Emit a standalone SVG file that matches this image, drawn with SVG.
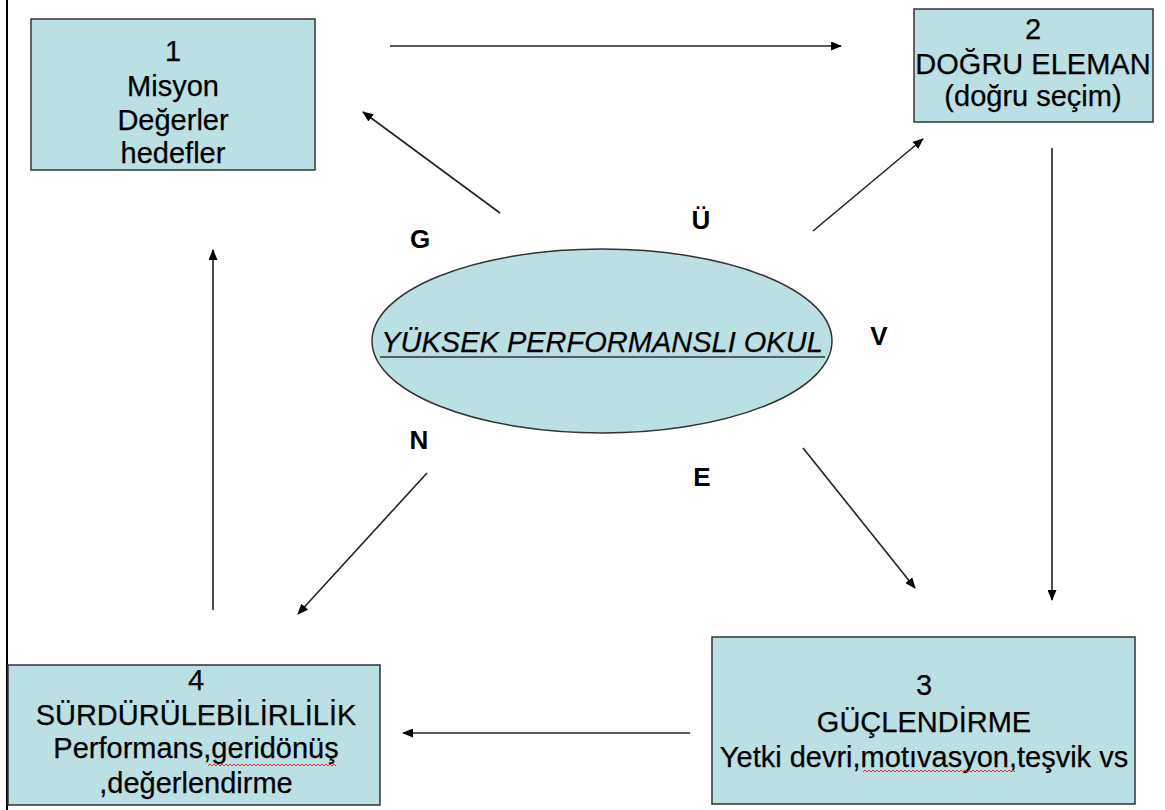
<svg xmlns="http://www.w3.org/2000/svg" width="1165" height="810" viewBox="0 0 1165 810">
<defs>
<marker id="ah" markerWidth="11" markerHeight="9" refX="10" refY="4.5" orient="auto" markerUnits="userSpaceOnUse">
<path d="M0,0 L11,4.5 L0,9 Z" fill="#000"/>
</marker>
<style>
.box{fill:#bbe0e3;stroke:#333;stroke-width:1.5}
.t{font-family:"Liberation Sans",Arial,sans-serif;font-size:29px;fill:#000;text-anchor:middle;stroke:#000;stroke-width:0.25}
.l{font-family:"Liberation Sans",Arial,sans-serif;font-size:26px;font-weight:bold;fill:#000;text-anchor:middle}
.c{stroke:#222;stroke-width:1.6;fill:none;marker-end:url(#ah)}
.sq{stroke:#e03030;stroke-width:1;fill:none}
</style>
</defs>
<rect width="1165" height="810" fill="#fff"/>
<line x1="7" y1="0" x2="7" y2="810" stroke="#000" stroke-width="2"/>
<g id="node1">
<rect class="box" x="31" y="19" width="284" height="151"/>
<text class="t" x="173" y="61">1</text>
<text class="t" x="173" y="96">Misyon</text>
<text class="t" x="173" y="130">Değerler</text>
<text class="t" x="173" y="163">hedefler</text>
</g>
<g id="node2">
<rect class="box" x="914" y="9" width="239" height="113"/>
<text class="t" x="1033" y="39">2</text>
<text class="t" x="1033" y="74">DOĞRU ELEMAN</text>
<text class="t" x="1033" y="106">(doğru seçim)</text>
</g>
<g id="center">
<ellipse cx="602" cy="341" rx="230" ry="92" fill="#bbe0e3" stroke="#333" stroke-width="1.5"/>
<text class="t" x="602" y="352" font-style="italic" font-size="30">YÜKSEK PERFORMANSLI OKUL</text>
<line x1="380" y1="357" x2="825" y2="357" stroke="#333" stroke-width="1.5"/>
</g>
<g id="letters">
<text class="l" x="420" y="248">G</text>
<text class="l" x="701" y="229">Ü</text>
<text class="l" x="879" y="345">V</text>
<text class="l" x="419" y="449">N</text>
<text class="l" x="702" y="486">E</text>
</g>
<g id="node3">
<rect class="box" x="712" y="637" width="423" height="167"/>
<text class="t" x="924" y="695">3</text>
<text class="t" x="924" y="732">GÜÇLENDİRME</text>
<text class="t" x="924" y="767">Yetki devri,motıvasyon,teşvik vs</text>
<path class="sq" d="M863,772 l2,-2 l2,2 l2,-2 l2,2 l2,-2 l2,2 l2,-2 l2,2 l2,-2 l2,2 l2,-2 l2,2 l2,-2 l2,2 l2,-2 l2,2 l2,-2 l2,2 l2,-2 l2,2 l2,-2 l2,2 l2,-2 l2,2 l2,-2 l2,2 l2,-2 l2,2 l2,-2 l2,2 l2,-2 l2,2 l2,-2 l2,2 l2,-2 l2,2 l2,-2 l2,2 l2,-2 l2,2 l2,-2 l2,2 l2,-2 l2,2 l2,-2 l2,2 l2,-2 l2,2 l2,-2 l2,2 l2,-2 l2,2 l2,-2 l2,2 l2,-2 l2,2 l2,-2 l2,2 l2,-2 l2,2 l2,-2 l2,2 l2,-2 l2,2 l2,-2 l2,2 l2,-2 l2,2 l2,-2 l2,2 l2,-2 l2,2 l2,-2 l2,2 l2,-2 l2,2"/>
</g>
<g id="node4">
<rect class="box" x="8" y="665" width="372" height="140"/>
<text class="t" x="196" y="690">4</text>
<text class="t" x="196" y="725">SÜRDÜRÜLEBİLİRLİLİK</text>
<text class="t" x="196" y="758">Performans,geridönüş</text>
<text class="t" x="196" y="793">,değerlendirme</text>
<path class="sq" d="M208,766 l2,-2 l2,2 l2,-2 l2,2 l2,-2 l2,2 l2,-2 l2,2 l2,-2 l2,2 l2,-2 l2,2 l2,-2 l2,2 l2,-2 l2,2 l2,-2 l2,2 l2,-2 l2,2 l2,-2 l2,2 l2,-2 l2,2 l2,-2 l2,2 l2,-2 l2,2 l2,-2 l2,2 l2,-2 l2,2 l2,-2 l2,2 l2,-2 l2,2 l2,-2 l2,2 l2,-2 l2,2 l2,-2 l2,2 l2,-2 l2,2 l2,-2 l2,2 l2,-2 l2,2 l2,-2 l2,2 l2,-2 l2,2 l2,-2 l2,2 l2,-2 l2,2 l2,-2 l2,2 l2,-2 l2,2 l2,-2 l2,2 l2,-2 l2,2"/>
</g>
<g id="connectors">
<line class="c" x1="390" y1="46" x2="841" y2="46"/>
<line class="c" x1="1052" y1="148" x2="1052" y2="600"/>
<line class="c" x1="690" y1="733" x2="403" y2="733"/>
<line class="c" x1="213" y1="610" x2="213" y2="250"/>
<line class="c" x1="500" y1="213" x2="363" y2="112"/>
<line class="c" x1="813" y1="231" x2="923" y2="139"/>
<line class="c" x1="803" y1="448" x2="915" y2="588"/>
<line class="c" x1="427" y1="473" x2="298" y2="614"/>
</g>
</svg>
